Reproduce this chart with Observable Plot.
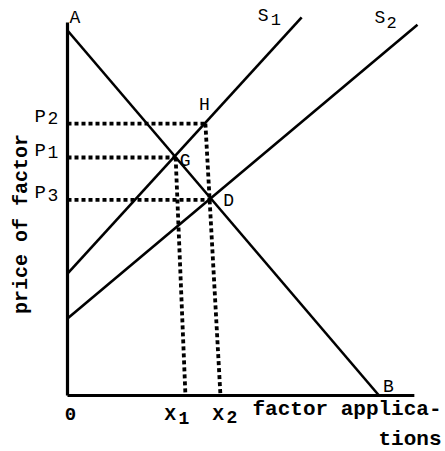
<!DOCTYPE html>
<html>
<head>
<meta charset="utf-8">
<script src="https://cdn.jsdelivr.net/npm/d3@7"></script>
<script src="https://cdn.jsdelivr.net/npm/@observablehq/plot@0.6"></script>
<style>
  html, body { margin: 0; padding: 0; background: #fff; }
  #chart svg { display: block; }
</style>
</head>
<body>
<div id="chart"></div>
<script>
// Demand line A-B
const demandX = [0, 89];
const demandY = [100, 0];
// Supply curves
const s1X = [0, 66.9];
const s1Y = [33.4, 103.6];
const s2X = [0, 100];
const s2Y = [21.1, 101.6];
// Intersection points
const pointNames = ["G", "D", "H"];
const pointX = [30.9, 41.1, 39.4];
const pointY = [65.2, 53.6, 74.5];
// Price levels (P) and the point each dotted line runs to
const priceNames = ["P", "P", "P"];
const priceSubs = ["1", "3", "2"];
const priceValues = [65.2, 53.6, 74.5];
const priceToX = [30.9, 41.1, 39.4];
// Quantity levels (X) on the axis and the point each dotted line drops from
const qtyNames = ["X", "X"];
const qtySubs = ["1", "2"];
const qtyValues = [33.7, 43.7];
const qtyFromX = [30.9, 39.4];
const qtyFromY = [65.2, 74.5];
// Axis extents
const xAxisEnd = 99.1;
const yAxisEnd = 102.2;
const axisTitleX = "factor applica-\ntions";
const axisTitleY = "price of factor";

const mono = "'Liberation Mono', 'Courier New', monospace";

const hDots = priceValues.map((v, i) => ({x1: 0, x2: priceToX[i], y: v}));
const vDots = qtyValues.map((v, i) => ({x1: qtyFromX[i], y1: qtyFromY[i], x2: v, y2: 0}));
const seg = (xs, ys) => [{x1: xs[0], y1: ys[0], x2: xs[1], y2: ys[1]}];
const linkOpts = {x1: "x1", y1: "y1", x2: "x2", y2: "y2", stroke: "black"};

const common = {fontFamily: mono, fill: "black"};

const chart = Plot.plot({
  width: 445,
  height: 451,
  margin: 0,
  x: {domain: [0, 100], range: [67, 417], axis: null},
  y: {domain: [0, 100], range: [395, 30], axis: null},
  style: {background: "white"},
  marks: [
    // dotted guides
    Plot.link(hDots, {x1: "x1", x2: "x2", y1: "y", y2: "y", stroke: "black", strokeWidth: 3.8, strokeDasharray: "4,3"}),
    Plot.link(vDots, {...linkOpts, strokeWidth: 3.8, strokeDasharray: "4,3"}),
    // curves
    Plot.link(seg(demandX, demandY), {...linkOpts, strokeWidth: 2.6}),
    Plot.link(seg(s1X, s1Y), {...linkOpts, strokeWidth: 2.6}),
    Plot.link(seg(s2X, s2Y), {...linkOpts, strokeWidth: 2.6}),
    // axes
    Plot.link([{x1: 0, y1: 0, x2: xAxisEnd, y2: 0}], {...linkOpts, strokeWidth: 3.2}),
    Plot.link([{x1: 0, y1: 0, x2: 0, y2: yAxisEnd}], {...linkOpts, strokeWidth: 3.2}),
    // point labels
    Plot.text([0], {x: () => demandX[0], y: () => demandY[0], text: () => "A", textAnchor: "start", dx: 2, dy: -13, fontSize: 18, ...common}),
    Plot.text([0], {x: () => demandX[1], y: () => demandY[1], text: () => "B", textAnchor: "start", dx: 4, dy: -9, fontSize: 18, ...common}),
    Plot.text([0], {x: () => pointX[0], y: () => pointY[0], text: () => pointNames[0], textAnchor: "start", dx: 4, dy: 3, fontSize: 18, ...common}),
    Plot.text([0], {x: () => pointX[1], y: () => pointY[1], text: () => pointNames[1], textAnchor: "start", dx: 12, dy: 0, fontSize: 18, ...common}),
    Plot.text([0], {x: () => pointX[2], y: () => pointY[2], text: () => pointNames[2], textAnchor: "middle", dx: -1, dy: -19, fontSize: 18, ...common}),
    // supply labels
    Plot.text([0], {x: () => s1X[1], y: () => s1Y[1], text: () => "S", textAnchor: "start", dx: -44, dy: -2, fontSize: 18, ...common}),
    Plot.text([0], {x: () => s1X[1], y: () => s1Y[1], text: () => "1", textAnchor: "start", dx: -31, dy: 2, fontSize: 17, ...common}),
    Plot.text([0], {x: () => s2X[1], y: () => s2Y[1], text: () => "S", textAnchor: "start", dx: -43, dy: -7, fontSize: 18, ...common}),
    Plot.text([0], {x: () => s2X[1], y: () => s2Y[1], text: () => "2", textAnchor: "start", dx: -31, dy: -2, fontSize: 17, ...common}),
    // price labels
    Plot.text(priceValues, {x: 0, y: d => d, text: (d, i) => priceNames[i], textAnchor: "start", dx: -33, dy: -8, fontSize: 19, ...common}),
    Plot.text(priceValues, {x: 0, y: d => d, text: (d, i) => priceSubs[i], textAnchor: "start", dx: -20, dy: -5, fontSize: 18, ...common}),
    // quantity labels
    Plot.text([0], {x: 0, y: 0, text: () => "0", textAnchor: "middle", dx: 3, dy: 18, fontSize: 19, fontWeight: "bold", ...common}),
    Plot.text([0], {x: () => qtyValues[0], y: 0, text: () => qtyNames[0], textAnchor: "start", dx: -21, dy: 18, fontSize: 19, fontWeight: "bold", ...common}),
    Plot.text([0], {x: () => qtyValues[0], y: 0, text: () => qtySubs[0], textAnchor: "start", dx: -7, dy: 23, fontSize: 18, fontWeight: "bold", ...common}),
    Plot.text([0], {x: () => qtyValues[1], y: 0, text: () => qtyNames[1], textAnchor: "start", dx: -8, dy: 18, fontSize: 19, fontWeight: "bold", ...common}),
    Plot.text([0], {x: () => qtyValues[1], y: 0, text: () => qtySubs[1], textAnchor: "start", dx: 6, dy: 22, fontSize: 18, fontWeight: "bold", ...common}),
    // axis titles
    Plot.text([axisTitleX], {frameAnchor: "bottom-right", text: d => d, textAnchor: "end", lineAnchor: "bottom", dx: -4, dy: -7, lineHeight: 1.4, fontSize: 21, fontWeight: "bold", ...common}),
    Plot.text([axisTitleY], {frameAnchor: "left", text: d => d, textAnchor: "middle", rotate: -90, dx: 20, dy: -2, fontSize: 20, fontWeight: "bold", ...common})
  ]
});
document.getElementById("chart").appendChild(chart);
</script>
</body>
</html>
